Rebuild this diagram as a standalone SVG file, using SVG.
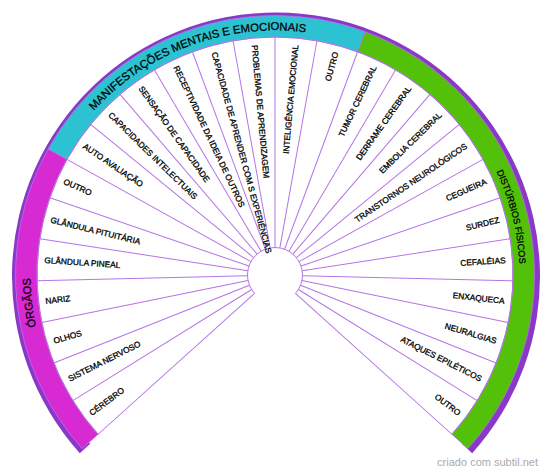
<svg xmlns="http://www.w3.org/2000/svg" xmlns:xlink="http://www.w3.org/1999/xlink" width="550" height="474" viewBox="0 0 550 474">
<style>
.ln{stroke:#b574e6;stroke-width:1;fill:none}
.t{font-family:"Liberation Sans",Arial,sans-serif;font-size:8.3px;fill:#000;stroke:#000;stroke-width:0.3}
.cat{font-family:"Liberation Sans",Arial,sans-serif;fill:#000;stroke:#000;stroke-width:0.25}
.band{stroke:#b574e6;stroke-width:0.8}
</style>
<defs>
<path id="pOrg" d="M 93.301 438.603 A 244.5 244.5 0 0 1 61.315 156.176"/>
<path id="pMan" d="M 61.315 156.176 A 244.5 244.5 0 0 1 359.857 45.697"/>
<path id="pDis" d="M 359.857 45.697 A 244.5 244.5 0 0 1 456.699 438.603"/>
</defs>
<rect width="550" height="474" fill="#fff"/>
<path d="M 79.810 453.151 A 264 264 0 1 1 472.190 453.151 L 461.786 443.783 A 250 250 0 1 0 90.214 443.783 Z" fill="#8a38c8"/>
<g id="cat-orgaos">
<path class="band" d="M 82.154 448.640 A 259.5 259.5 0 0 1 48.206 148.887 L 66.996 159.335 A 238 238 0 0 0 98.131 434.253 Z" fill="#d82ad2"/>
<text class="cat" font-size="11.2"><textPath xlink:href="#pOrg" href="#pOrg" startOffset="50%" text-anchor="middle">ÓRGÃOS</textPath></text>
</g>
<g id="cat-manifestacoes">
<path class="band" d="M 48.206 148.887 A 259.5 259.5 0 0 1 365.062 31.630 L 357.601 51.793 A 238 238 0 0 0 66.996 159.335 Z" fill="#2cc2d2"/>
<text class="cat" font-size="11.3"><textPath xlink:href="#pMan" href="#pMan" startOffset="50%" text-anchor="middle">MANIFESTAÇÕES MENTAIS E EMOCIONAIS</textPath></text>
</g>
<g id="cat-disturbios">
<path class="band" d="M 365.062 31.630 A 259.5 259.5 0 0 1 467.846 448.640 L 451.869 434.253 A 238 238 0 0 0 357.601 51.793 Z" fill="#53c00a"/>
<text class="cat" font-size="9.2"><textPath xlink:href="#pDis" href="#pDis" startOffset="50%" text-anchor="middle">DISTÚRBIOS FÍSICOS</textPath></text>
</g>
<g id="connectors" class="ln">
<path d="M 98.131 434.253 A 238 238 0 1 1 451.869 434.253"/>
<path d="M 254.563 293.401 A 27.5 27.5 0 1 1 295.437 293.401"/>
<g transform="translate(275,275)">
<line x1="27.5" y1="0" x2="238" y2="0" transform="rotate(138)"/>
<line x1="27.5" y1="0" x2="238" y2="0" transform="rotate(148.1538)"/>
<line x1="27.5" y1="0" x2="238" y2="0" transform="rotate(158.3077)"/>
<line x1="27.5" y1="0" x2="238" y2="0" transform="rotate(168.4615)"/>
<line x1="27.5" y1="0" x2="238" y2="0" transform="rotate(178.6154)"/>
<line x1="27.5" y1="0" x2="238" y2="0" transform="rotate(188.7692)"/>
<line x1="27.5" y1="0" x2="238" y2="0" transform="rotate(198.9231)"/>
<line x1="27.5" y1="0" x2="238" y2="0" transform="rotate(209.0769)"/>
<line x1="27.5" y1="0" x2="238" y2="0" transform="rotate(219.2308)"/>
<line x1="27.5" y1="0" x2="238" y2="0" transform="rotate(229.3846)"/>
<line x1="27.5" y1="0" x2="238" y2="0" transform="rotate(239.5385)"/>
<line x1="27.5" y1="0" x2="238" y2="0" transform="rotate(249.6923)"/>
<line x1="27.5" y1="0" x2="238" y2="0" transform="rotate(259.8462)"/>
<line x1="27.5" y1="0" x2="238" y2="0" transform="rotate(270)"/>
<line x1="27.5" y1="0" x2="238" y2="0" transform="rotate(280.1538)"/>
<line x1="27.5" y1="0" x2="238" y2="0" transform="rotate(290.3077)"/>
<line x1="27.5" y1="0" x2="238" y2="0" transform="rotate(300.4615)"/>
<line x1="27.5" y1="0" x2="238" y2="0" transform="rotate(310.6154)"/>
<line x1="27.5" y1="0" x2="238" y2="0" transform="rotate(320.7692)"/>
<line x1="27.5" y1="0" x2="238" y2="0" transform="rotate(330.9231)"/>
<line x1="27.5" y1="0" x2="238" y2="0" transform="rotate(341.0769)"/>
<line x1="27.5" y1="0" x2="238" y2="0" transform="rotate(351.2308)"/>
<line x1="27.5" y1="0" x2="238" y2="0" transform="rotate(361.3846)"/>
<line x1="27.5" y1="0" x2="238" y2="0" transform="rotate(371.5385)"/>
<line x1="27.5" y1="0" x2="238" y2="0" transform="rotate(381.6923)"/>
<line x1="27.5" y1="0" x2="238" y2="0" transform="rotate(391.8462)"/>
<line x1="27.5" y1="0" x2="238" y2="0" transform="rotate(402)"/>
</g>
</g>
<g transform="translate(275,275)">
<g id="s00"><text class="t" transform="rotate(-36.92)" x="-231" dy="0.35em">CÉREBRO</text></g>
<g id="s01"><text class="t" transform="rotate(-26.77)" x="-231" dy="0.35em">SISTEMA NERVOSO</text></g>
<g id="s02"><text class="t" transform="rotate(-16.62)" x="-231" dy="0.35em">OLHOS</text></g>
<g id="s03"><text class="t" transform="rotate(-6.46)" x="-231" dy="0.35em">NARIZ</text></g>
<g id="s04"><text class="t" transform="rotate(3.69)" x="-231" dy="0.35em">GLÂNDULA PINEAL</text></g>
<g id="s05"><text class="t" transform="rotate(13.85)" x="-231" dy="0.35em">GLÂNDULA PITUITÁRIA</text></g>
<g id="s06"><text class="t" transform="rotate(24)" x="-231" dy="0.35em">OUTRO</text></g>
<g id="s07"><text class="t" transform="rotate(34.15)" x="-231" dy="0.35em">AUTO AVALIAÇÃO</text></g>
<g id="s08"><text class="t" transform="rotate(44.31)" x="-231" dy="0.35em">CAPACIDADES INTELECTUAIS</text></g>
<g id="s09"><text class="t" transform="rotate(54.46)" x="-231" dy="0.35em">SENSAÇÃO DE CAPACIDADE</text></g>
<g id="s10"><text class="t" transform="rotate(64.62)" x="-231" dy="0.35em">RECEPTIVIDADE DA IDEIA DE OUTROS</text></g>
<g id="s11"><text class="t" transform="rotate(74.77)" x="-231" dy="0.35em">CAPACIDADE DE APRENDER COM S EXPERIÊNCIAS</text></g>
<g id="s12"><text class="t" transform="rotate(84.92)" x="-231" dy="0.35em">PROBLEMAS DE APRENDIZAGEM</text></g>
<g id="s13"><text class="t" transform="rotate(-84.92)" x="231" dy="0.35em" text-anchor="end">INTELIGÊNCIA EMOCIONAL</text></g>
<g id="s14"><text class="t" transform="rotate(-74.77)" x="231" dy="0.35em" text-anchor="end">OUTRO</text></g>
<g id="s15"><text class="t" transform="rotate(-64.62)" x="231" dy="0.35em" text-anchor="end">TUMOR CEREBRAL</text></g>
<g id="s16"><text class="t" transform="rotate(-54.46)" x="231" dy="0.35em" text-anchor="end">DERRAME CEREBRAL</text></g>
<g id="s17"><text class="t" transform="rotate(-44.31)" x="231" dy="0.35em" text-anchor="end">EMBOLIA CEREBRAL</text></g>
<g id="s18"><text class="t" transform="rotate(-34.15)" x="231" dy="0.35em" text-anchor="end">TRANSTORNOS NEUROLÓGICOS</text></g>
<g id="s19"><text class="t" transform="rotate(-24)" x="231" dy="0.35em" text-anchor="end">CEGUEIRA</text></g>
<g id="s20"><text class="t" transform="rotate(-13.85)" x="231" dy="0.35em" text-anchor="end">SURDEZ</text></g>
<g id="s21"><text class="t" transform="rotate(-3.69)" x="231" dy="0.35em" text-anchor="end">CEFALÉIAS</text></g>
<g id="s22"><text class="t" transform="rotate(6.46)" x="231" dy="0.35em" text-anchor="end">ENXAQUECA</text></g>
<g id="s23"><text class="t" transform="rotate(16.62)" x="231" dy="0.35em" text-anchor="end">NEURALGIAS</text></g>
<g id="s24"><text class="t" transform="rotate(26.77)" x="231" dy="0.35em" text-anchor="end">ATAQUES EPILÉTICOS</text></g>
<g id="s25"><text class="t" transform="rotate(36.92)" x="231" dy="0.35em" text-anchor="end">OUTRO</text></g>
</g>
<text x="538" y="466" text-anchor="end" font-family="Liberation Sans,Arial,sans-serif" font-size="11" fill="#aaaaaa">criado com subtil.net</text>
</svg>
